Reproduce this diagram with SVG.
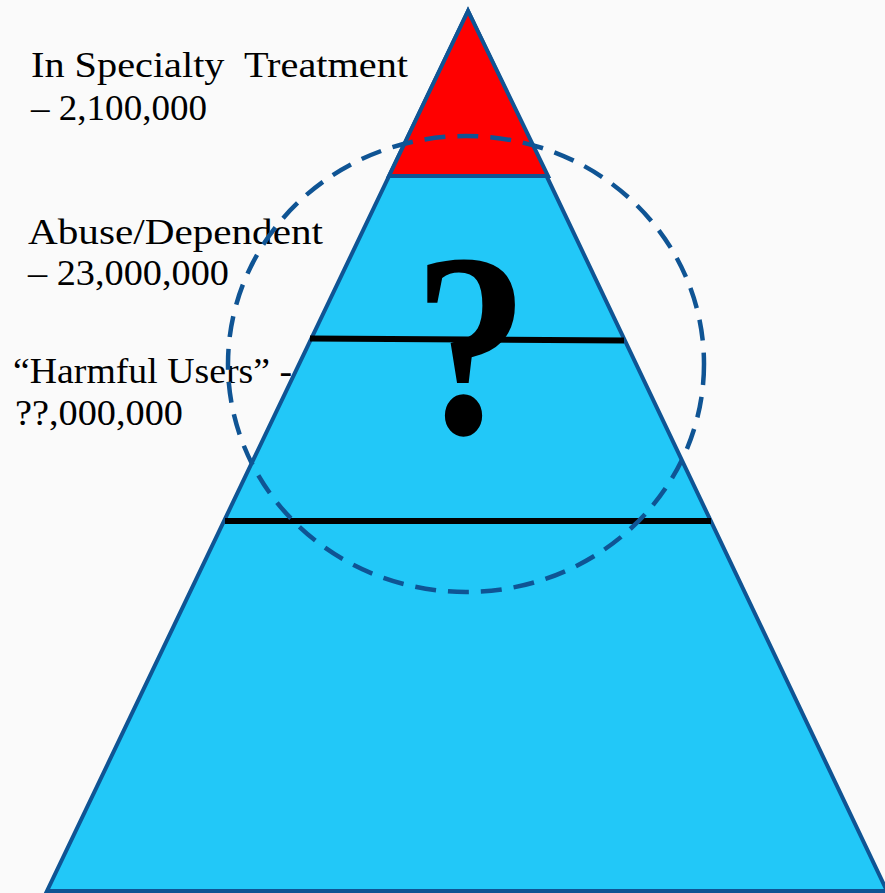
<svg xmlns="http://www.w3.org/2000/svg" width="885" height="893" viewBox="0 0 885 893">
<style>
.lbl{font-family:"Liberation Serif","DejaVu Serif",serif;font-size:36px;fill:#000;white-space:pre}
.edge{stroke:#0F5494;stroke-width:4;stroke-linejoin:miter}
.band{stroke:#000;stroke-width:6}
</style>
<rect width="885" height="893" fill="#FAFAFA"/>
<g id="pyramid-base">
<polygon class="edge" points="468,11 47,891 887,891" fill="#22C8F8"/>
</g>
<g id="top-treatment">
<polygon class="edge" points="468,11 389,176 548,176" fill="#FF0000"/>
</g>
<g id="dividers">
<line class="band" x1="310" y1="338.5" x2="624" y2="340.5"/>
<line class="band" x1="225" y1="521" x2="711" y2="521"/>
</g>
<g id="question">
<text transform="translate(471,433) scale(0.88,1)" x="0" y="0" text-anchor="middle" style="font-family:'Liberation Serif','DejaVu Serif',serif;font-size:262px;font-weight:bold">?</text>
</g>
<g id="labels">
<text class="lbl" x="31" y="77" textLength="377" lengthAdjust="spacingAndGlyphs" xml:space="preserve">In Specialty  Treatment</text>
<text class="lbl" x="31" y="120" textLength="176" lengthAdjust="spacingAndGlyphs">– 2,100,000</text>
<text class="lbl" x="28" y="244" textLength="295" lengthAdjust="spacingAndGlyphs">Abuse/Dependent</text>
<text class="lbl" x="28" y="285" textLength="201" lengthAdjust="spacingAndGlyphs">– 23,000,000</text>
<text class="lbl" x="13" y="383" textLength="279" lengthAdjust="spacingAndGlyphs">“Harmful Users” -</text>
<text class="lbl" x="15" y="425" textLength="168" lengthAdjust="spacingAndGlyphs">??,000,000</text>
</g>
<g id="circle">
<ellipse cx="466" cy="364" rx="238" ry="228" fill="none" stroke="#0F5494" stroke-width="4.5" stroke-dasharray="21 12"/>
</g>
</svg>
